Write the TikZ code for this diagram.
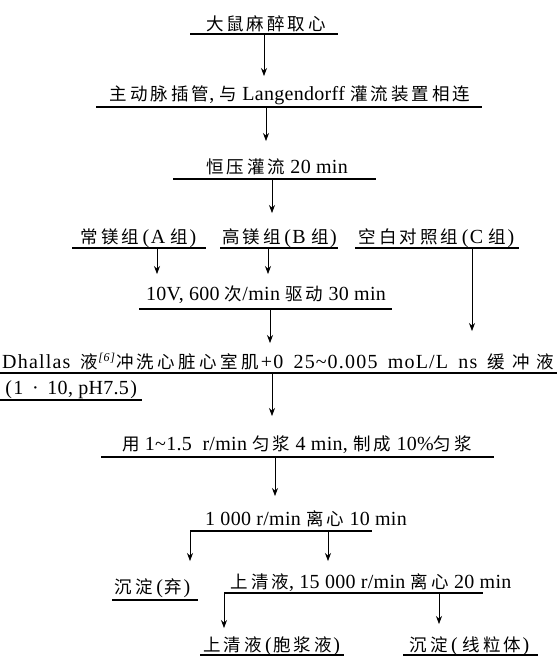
\documentclass[tikz,border=0pt]{standalone}
\usepackage{fontspec}
\setmainfont{Liberation Serif}[LetterSpace=1.5]
\newfontfamily\cjk{Noto Sans CJK SC}
\newfontfamily\serifwide{Liberation Serif}[LetterSpace=6]
\usetikzlibrary{arrows.meta}
\newdimen\cjkgap \cjkgap=3pt
\XeTeXinterchartokenstate=1
\newXeTeXintercharclass\CJKcls
\count255="4E00
\loop \XeTeXcharclass\count255=\CJKcls \ifnum\count255<"9FFF \advance\count255 by 1 \repeat
\XeTeXinterchartoks\CJKcls\CJKcls={\hskip\cjkgap}
\newcommand\tld{{\char"7E}}
\newcommand\zh[1]{{\fontsize{17.5}{19}\selectfont\cjk #1}}
\newcommand\lp{\kern3.5pt(\kern1.5pt}
\newcommand\rp{\kern1.5pt)\kern1pt}
\begin{document}
\begin{tikzpicture}[x=1pt,y=-1pt,
  lbl/.style={anchor=base, inner sep=0pt, font=\fontsize{20}{22}\selectfont},
  ul/.style={line width=1.4pt},
  arr/.style={line width=0.7pt, -{Stealth[length=8pt,width=6pt]}}]
\useasboundingbox (0,0) rectangle (557,657);
% texts
\node[lbl] (t1) at (266,30) {\zh{大鼠麻醉取心}};
\node[lbl] (t2) at (290,100) {\zh{主动脉插管}, \zh{与} Langendorff \zh{灌流装置相连}};
\node[lbl] (t3) at (277,173) {\zh{恒压灌流} 20 min};
\node[lbl] (ta) at (139,243) {\zh{常镁组}\lp A \zh{组}\rp};
\node[lbl] (tb) at (280,243) {\zh{高镁组}\lp B \zh{组}\rp};
\node[lbl] (tc) at (437,243) {\zh{空白对照组}\lp C \zh{组}\rp};
\node[lbl] (t5) at (266,300) {10V, 600 \zh{次}/min \zh{驱动} 30 min};
\node[lbl, anchor=base west] (t6) at (2,368) {\serifwide\makebox[552pt][s]{Dhallas \zh{液}\raisebox{7pt}{\fontsize{12}{13}\selectfont\itshape [6]}\kern1pt{\cjkgap=3.4pt\zh{冲洗心脏心室肌}}\kern2pt+0 25\kern1pt\tld\kern1pt0.005 moL/L ns {\cjkgap=7pt\zh{缓冲液}}}};
\node[lbl] (t7) at (70,394) {\lp 1 \,·\, 10, pH7.5\rp};
\node[lbl] (t8) at (297,450) {\zh{用} 1\tld1.5 \ r/min \zh{匀浆} 4 min, \zh{制成} 10\%\zh{匀浆}};
\node[lbl] (t9) at (306,525) {1 000 r/min \zh{离心} 10 min};
\node[lbl] (t10a) at (153,593) {\zh{沉淀}\lp\zh{弃}\rp};
\node[lbl] (t10b) at (371,588) {\zh{上清液}, 15 000 r/min \zh{离心} 20 min};
\node[lbl] (t11a) at (272,651) {\zh{上清液}\lp\zh{胞浆液}\rp};
\node[lbl] (t11b) at (470,651) {\zh{沉淀}\lp\,\zh{线粒体}\rp};
% underlines
\coordinate (u1l) at (190,34);  \coordinate (u1r) at (338,34);
\coordinate (u2l) at (96,107);  \coordinate (u2r) at (482,107);
\coordinate (u3l) at (173,179); \coordinate (u3r) at (376,179);
\coordinate (ual) at (72,248);  \coordinate (uar) at (206,248);
\coordinate (ubl) at (220,248); \coordinate (ubr) at (338,248);
\coordinate (ucl) at (355,248); \coordinate (ucr) at (519,248);
\coordinate (u5l) at (139,309); \coordinate (u5r) at (392,309);
\coordinate (u6l) at (0,373);   \coordinate (u6r) at (557,373);
\coordinate (u7l) at (0,400);   \coordinate (u7r) at (142,400);
\coordinate (u8l) at (101,457); \coordinate (u8r) at (494,457);
\coordinate (u9l) at (190,531); \coordinate (u9r) at (372,531);
\coordinate (u10al) at (112,600); \coordinate (u10ar) at (198,600);
\coordinate (u10bl) at (224,593); \coordinate (u10br) at (483,593);
\coordinate (u11al) at (200,655); \coordinate (u11ar) at (344,655);
\coordinate (u11bl) at (403,655); \coordinate (u11br) at (538,655);
\foreach \u in {1,2,3,a,b,c,5,6,7,8,9,10a,10b,11a,11b}
  \draw[ul] (u\u l) -- (u\u r);
% arrow ends
\coordinate (a1s) at (264,34);  \coordinate (a1e) at (264,76);
\coordinate (a2s) at (266,107); \coordinate (a2e) at (266,141);
\coordinate (a3s) at (272,179); \coordinate (a3e) at (272,213);
\coordinate (aas) at (157,248); \coordinate (aae) at (157,274);
\coordinate (abs) at (268,248); \coordinate (abe) at (268,274);
\coordinate (acs) at (472,248); \coordinate (ace) at (472,331);
\coordinate (a5s) at (270,309); \coordinate (a5e) at (270,343);
\coordinate (a6s) at (272,373); \coordinate (a6e) at (272,416);
\coordinate (a8s) at (275,457); \coordinate (a8e) at (275,496);
\coordinate (a9ls) at (190,531); \coordinate (a9le) at (190,561);
\coordinate (a9rs) at (328,531); \coordinate (a9re) at (328,561);
\coordinate (a10ls) at (224,593); \coordinate (a10le) at (224,628);
\coordinate (a10rs) at (439,593); \coordinate (a10re) at (439,624);
\foreach \a in {1,2,3,a,b,c,5,6,8,9l,9r,10l,10r}
  \draw[arr] (a\a s) -- (a\a e);
\end{tikzpicture}
\end{document}
